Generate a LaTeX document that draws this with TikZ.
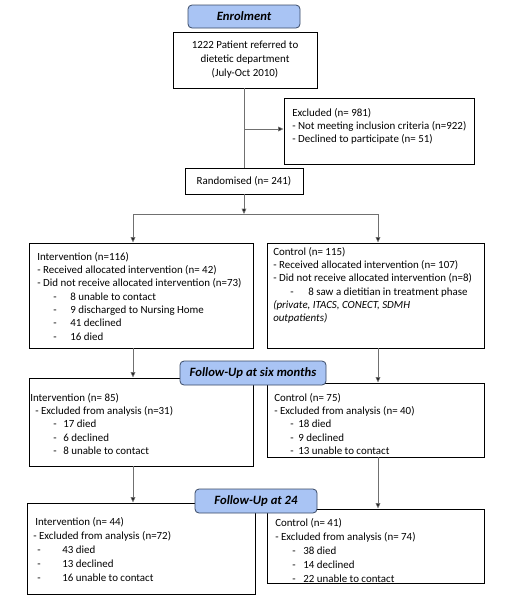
\documentclass[tikz,border=0pt]{standalone}
\usepackage{fontspec}
\setmainfont{Carlito}
\usetikzlibrary{fit,arrows.meta}
\newcommand\itm[3]{\hspace*{#1}\makebox[#2][l]{-}#3}
\definecolor{hdrfill}{HTML}{A9C4F4}
\definecolor{hdrdraw}{HTML}{3A4A66}
\definecolor{conn}{HTML}{707070}
\begin{document}
\begin{tikzpicture}[x=0.75pt,y=-0.75pt,
  box/.style={draw=black,line width=0.7pt,inner sep=0pt,fill=white},
  hdr/.style={draw=hdrdraw,line width=0.6pt,fill=hdrfill,rounded corners=3pt,inner sep=0pt,
    font=\fontsize{9.5pt}{11pt}\selectfont\bfseries\itshape},
  txt/.style={inner sep=0pt,anchor=north west,align=left,font=\fontsize{8.2pt}{10pt}\selectfont},
  ctxt/.style={align=center,font=\fontsize{8.2pt}{10.5pt}\selectfont},
  arrow/.style={draw=conn,line width=0.6pt,-{Triangle[length=4pt,width=3.5pt,fill=black]}},
  line/.style={draw=conn,line width=0.6pt}]
\useasboundingbox (0,0) rectangle (510,597);

% boxes
\node[box,ctxt,fit={(173,32) (317,88)}] (ref) {};
\node[ctxt] at (ref.center) {1222 Patient referred to\\dietetic department\\(July-Oct 2010)};
\node[box,fit={(284,98) (474,164)}] (excl) {};
\node[box,ctxt,fit={(185,168) (303,194)}] (rand) {};
\node[ctxt] at (rand.center) {Randomised (n= 241)};

\node[box,fit={(29,243) (253,348)}] (int1) {};
\node[box,fit={(267,243) (484,348)}] (ctl1) {};
\node[box,fit={(29,378) (253,466)}] (int2) {};
\node[box,fit={(267,383) (484,457)}] (ctl2) {};
\node[box,fit={(27,503) (255,594)}] (int3) {};
\node[box,fit={(267,509) (484,583)}] (ctl3) {};

% texts
\node[txt] (exclt) at (292,108) {Excluded (n= 981)\\- Not meeting inclusion criteria (n=922)\\- Declined to participate (n= 51)};
\node[txt] (int1t) at (37,252) {Intervention (n=116)\\- Received allocated intervention (n= 42)\\- Did not receive allocated intervention (n=73)\\
\itm{12pt}{12.75pt}{8 unable to contact}\\
\itm{12pt}{12.75pt}{9 discharged to Nursing Home}\\
\itm{12pt}{12.75pt}{41 declined}\\
\itm{12pt}{12.75pt}{16 died}};
\node[txt] (ctl1t) at (273,247) {Control (n= 115)\\- Received allocated intervention (n= 107)\\- Did not receive allocated intervention (n=8)\\
\itm{12.75pt}{13.5pt}{8 saw a dietitian in treatment phase}\\
\textit{(private, ITACS, CONECT, SDMH}\\
\textit{outpatients)}};
\node[txt] (int2t) at (30,393) {Intervention (n= 85)\\
\hspace*{3.75pt}- Excluded from analysis (n=31)\\
\itm{17.25pt}{7.5pt}{17 died}\\
\itm{17.25pt}{7.5pt}{6 declined}\\
\itm{17.25pt}{7.5pt}{8 unable to contact}};
\node[txt] (ctl2t) at (274,393) {Control (n= 75)\\
- Excluded from analysis (n= 40)\\
\itm{12pt}{6pt}{18 died}\\
\itm{12pt}{6pt}{9 declined}\\
\itm{12pt}{6pt}{13 unable to contact}};
\node[txt,font=\fontsize{8.2pt}{10.5pt}\selectfont] (int3t) at (33,517) {\hspace*{1.5pt}Intervention (n= 44)\\
- Excluded from analysis (n=72)\\
\itm{3pt}{18.75pt}{43 died}\\
\itm{3pt}{18.75pt}{13 declined}\\
\itm{3pt}{18.75pt}{16 unable to contact}};
\node[txt,font=\fontsize{8.2pt}{10.5pt}\selectfont] (ctl3t) at (275,518) {Control (n= 41)\\
- Excluded from analysis (n= 74)\\
\itm{12.75pt}{8.25pt}{38 died}\\
\itm{12.75pt}{8.25pt}{14 declined}\\
\itm{12.75pt}{8.25pt}{22 unable to contact}};

% headers
\node[hdr,fit={(188,5) (300,28)}] (enrol) {};
\node[font=\fontsize{9.5pt}{11pt}\selectfont\bfseries\itshape] at (enrol.center) {Enrolment};
\node[hdr,fit={(180,361) (326,385)}] (fu6) {};
\node[font=\fontsize{9.5pt}{11pt}\selectfont\bfseries\itshape] at (fu6.center) {Follow-Up at six months};
\node[hdr,fit={(195,489) (317,513)}] (fu24) {};
\node[font=\fontsize{9.5pt}{11pt}\selectfont\bfseries\itshape] at (fu24.center) {Follow-Up at 24};

% connectors
\coordinate (jc) at (244,214);
\coordinate (jl) at (133,214);
\coordinate (jr) at (378,214);
\coordinate (tap) at (244,129);
\draw[line] (ref.south -| jc) -- (rand.north -| jc);
\draw[arrow] (tap) -- (tap -| excl.west);
\draw[arrow] (rand.south -| jc) -- (jc);
\draw[line] (jl) -- (jr);
\draw[arrow] (jl) -- (jl |- int1.north);
\draw[arrow] (jr) -- (jr |- ctl1.north);
\draw[arrow] (int1.south -| jl) -- (int2.north -| jl);
\draw[arrow] (ctl1.south -| jr) -- (ctl2.north -| jr);
\draw[arrow] (int2.south -| jl) -- (int3.north -| jl);
\draw[arrow] (ctl2.south -| jr) -- (ctl3.north -| jr);
\end{tikzpicture}
\end{document}
